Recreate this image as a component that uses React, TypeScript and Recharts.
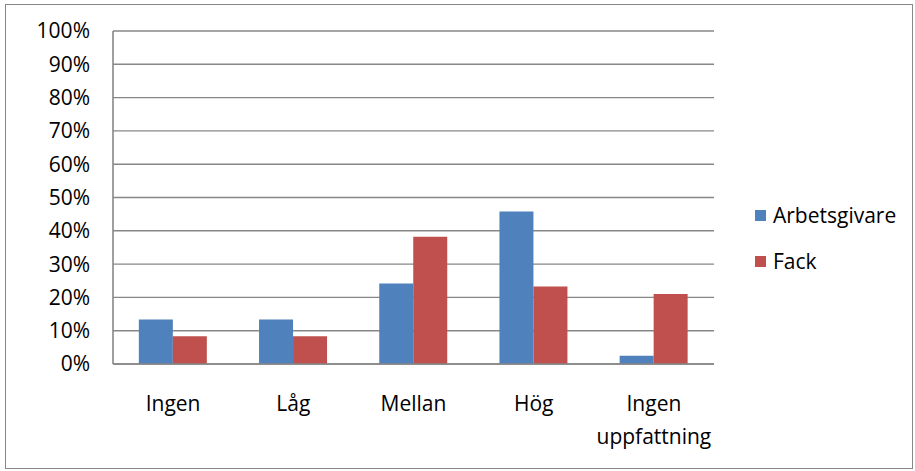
import React from 'react';
import { BarChart, Bar, XAxis, YAxis, CartesianGrid, Legend } from 'recharts';

const categories = ['Ingen', 'Låg', 'Mellan', 'Hög', 'Ingen uppfattning'];
const arbetsgivare = [0.134, 0.134, 0.242, 0.458, 0.025];
const fack = [0.083, 0.083, 0.382, 0.233, 0.21];
const yTicks = [0, 0.1, 0.2, 0.3, 0.4, 0.5, 0.6, 0.7, 0.8, 0.9, 1];

const BLUE = '#4F81BD';
const RED = '#C0504D';
const GRID = '#878787';
const FONT = '"Open Sans", "Noto Sans", sans-serif';
const FONT_SIZE = 21;
const LEGEND_W = 160;

const data = categories.map((name, i) => ({
  name,
  Arbetsgivare: arbetsgivare[i],
  Fack: fack[i],
}));

const CategoryTick = (props: any) => {
  const { x, y, payload } = props;
  const value: string = payload.value;
  const lines = value.length > 10 ? value.split(' ') : [value];
  return (
    <text x={x} y={y} textAnchor="middle" fill="#000" fontSize={FONT_SIZE} fontFamily={FONT}>
      {lines.map((line, i) => (
        <tspan key={i} x={x} dy={i === 0 ? 47 : 33}>
          {line}
        </tspan>
      ))}
    </text>
  );
};

const SideLegend = (props: any) => {
  const { payload } = props;
  return (
    <div style={{ fontFamily: FONT, fontSize: FONT_SIZE, color: '#000' }}>
      {payload.map((entry: any) => (
        <div key={entry.value} style={{ display: 'flex', alignItems: 'center', height: 28, marginBottom: 18 }}>
          <span style={{ width: 11, height: 11, background: entry.color, marginRight: 7, display: 'inline-block' }} />
          <span>{entry.value}</span>
        </div>
      ))}
    </div>
  );
};

export default function App() {
  return (
    <div style={{ position: 'absolute', left: 0, top: 0, width: 915, height: 471, background: '#fff' }}>
      <div
        style={{
          position: 'absolute',
          left: 5,
          top: 4,
          width: 906,
          height: 463,
          border: `1px solid ${GRID}`,
        }}
      />
      <div style={{ position: 'absolute', left: 0, top: 0 }}>
        <BarChart
          width={915}
          height={471}
          data={data}
          // the vertical legend's width is added to the right margin by recharts
          margin={{ top: 31, right: 201 - LEGEND_W, bottom: 0, left: 0 }}
          barCategoryGap="21.5%"
          barGap={0}
        >
          <CartesianGrid vertical={false} stroke={GRID} strokeWidth={1.4} />
          <XAxis
            dataKey="name"
            height={107}
            stroke={GRID}
            strokeWidth={1.6}
            tickLine={false}
            tickSize={0}
            tickMargin={0}
            interval={0}
            tick={<CategoryTick />}
          />
          <YAxis
            domain={[0, 1]}
            ticks={yTicks}
            width={113}
            stroke={GRID}
            strokeWidth={1.6}
            tickLine={false}
            tickSize={0}
            tickMargin={23}
            interval={0}
            tick={{ fill: '#000', fontSize: FONT_SIZE, fontFamily: FONT }}
            tickFormatter={(v) => `${Math.round(v * 100)}%`}
          />
          <Legend
            layout="vertical"
            align="right"
            verticalAlign="top"
            content={<SideLegend />}
            wrapperStyle={{ left: 755, top: 201, width: LEGEND_W }}
          />
          <Bar dataKey="Arbetsgivare" fill={BLUE} isAnimationActive={false} />
          <Bar dataKey="Fack" fill={RED} isAnimationActive={false} />
        </BarChart>
      </div>
    </div>
  );
}
